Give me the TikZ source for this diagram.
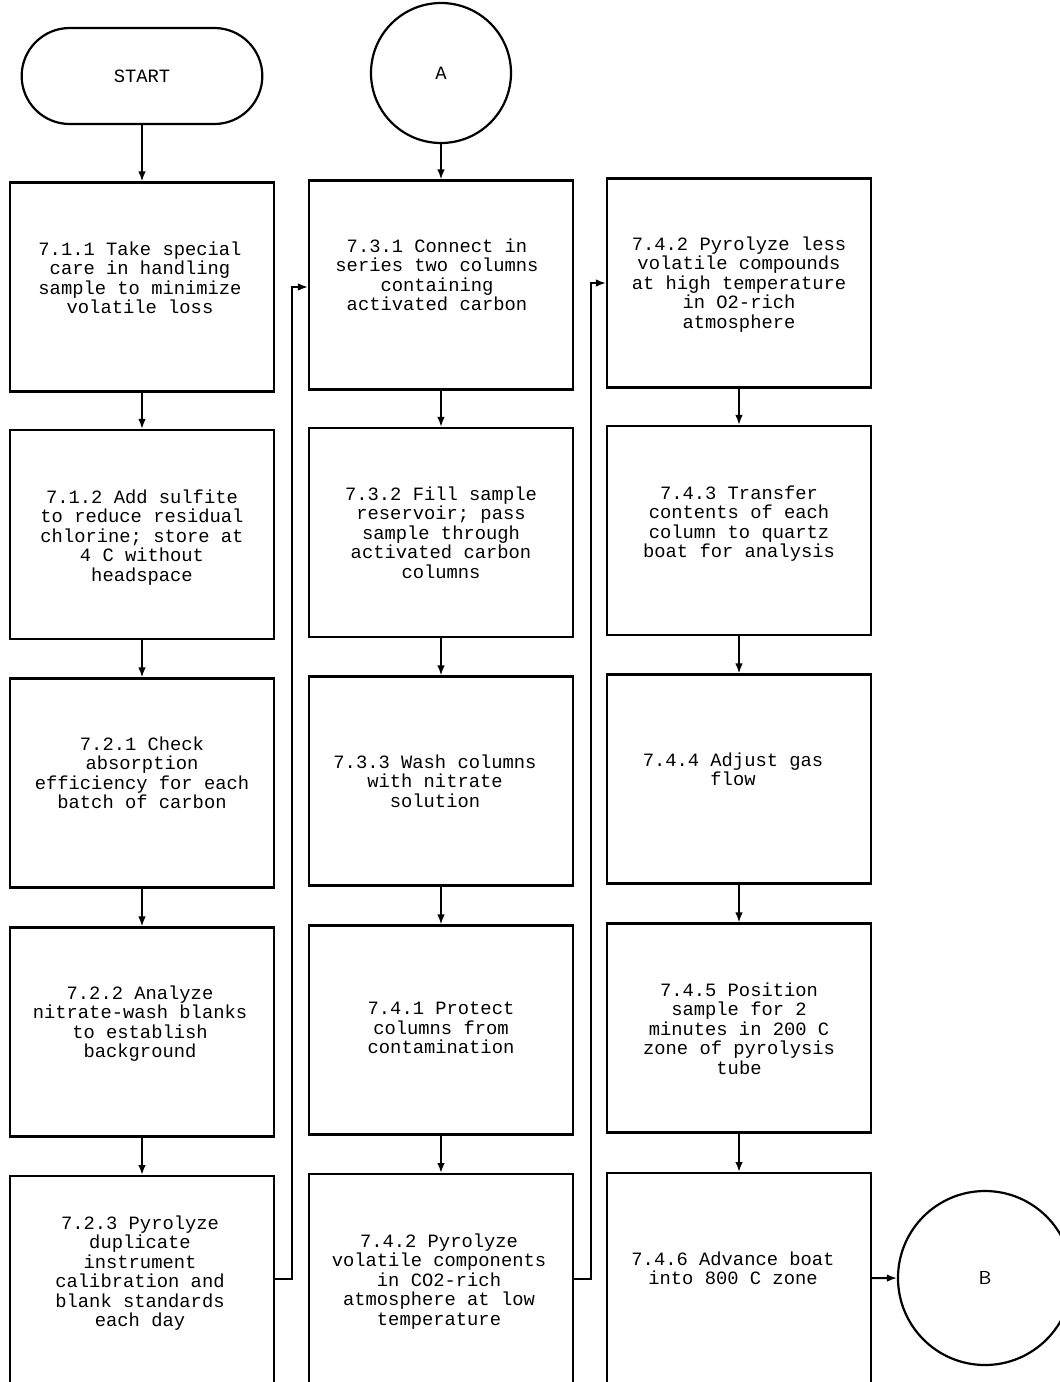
\documentclass[tikz,border=0pt]{standalone}
\usepackage{fontspec}
\setmonofont{Liberation Mono}
\usetikzlibrary{shapes.misc,arrows.meta}
\tikzset{
  box/.style={draw, line width=1.1pt, minimum width=132pt, minimum height=104.5pt, inner sep=0pt},
  lastbox/.style={box, anchor=north, minimum height=110pt},
  txt/.style={anchor=north, align=center, inner sep=0pt, font=\ttfamily\fontsize{9.4}{9.75}\selectfont},
  arr/.style={line width=0.9pt, -{Latex[length=5pt,width=3.8pt]}},
  term/.style={draw, line width=1.1pt, rounded rectangle, minimum width=127pt, minimum height=48pt, font=\ttfamily\fontsize{9.4}{9.75}\selectfont},
  conn/.style={draw, line width=1.1pt, circle, font=\ttfamily\fontsize{9.4}{9.75}\selectfont}
}
\begin{document}
\begin{tikzpicture}[x=0.5pt,y=-0.5pt]
\fill[white] (0,0) rectangle (1060,1382);
\useasboundingbox (0,0) rectangle (1060,1382);
\clip (0,0) rectangle (1060,1382);
% terminals
\node[term] (start) at (142,76) {START};
\node[conn, minimum size=70pt] (A) at (441,73) {A};
\node[conn, minimum size=87pt, font=\sffamily\fontsize{9.4}{9.75}\selectfont] (B) at (985,1278) {B};
% column 1
\node[box] (b11) at (142,287) {};
\node[box] (b12) at (142,534.5) {};
\node[box] (b13) at (142,783) {};
\node[box] (b14) at (142,1032) {};
\node[lastbox] (b15) at (142,1175) {};
% column 2
\node[box] (b21) at (441,285) {};
\node[box] (b22) at (441,532.5) {};
\node[box] (b23) at (441,781) {};
\node[box] (b24) at (441,1030) {};
\node[lastbox] (b25) at (441,1173) {};
% column 3
\node[box] (b31) at (739,283) {};
\node[box] (b32) at (739,530.5) {};
\node[box] (b33) at (739,779) {};
\node[box] (b34) at (739,1028) {};
\node[lastbox] (b35) at (739,1172) {};
% texts
\node[txt] (t11) at (140,241) {7.1.1 Take special\\care in handling\\sample to minimize\\volatile loss};
\node[txt] (t12) at (142,489) {7.1.2 Add sulfite\\to reduce residual\\chlorine; store at\\4 C without\\headspace};
\node[txt] (t13) at (142,736) {7.2.1 Check\\absorption\\efficiency for each\\batch of carbon};
\node[txt] (t14) at (140,985) {7.2.2 Analyze\\nitrate-wash blanks\\to establish\\background};
\node[txt] (t15) at (140,1215) {7.2.3 Pyrolyze\\duplicate\\instrument\\calibration and\\blank standards\\each day};
\node[txt] (t21) at (437,238) {7.3.1 Connect in\\series two columns\\containing\\activated carbon};
\node[txt] (t22) at (441,486) {7.3.2 Fill sample\\reservoir; pass\\sample through\\activated carbon\\columns};
\node[txt] (t23) at (435,754) {7.3.3 Wash columns\\with nitrate\\solution};
\node[txt] (t24) at (441,1002) {7.4.1 Protect\\columns from\\contamination};
\node[txt] (t25) at (439,1233) {7.4.2 Pyrolyze\\volatile components\\in CO2-rich\\atmosphere at low\\temperature};
\node[txt] (t31) at (739,236) {7.4.2 Pyrolyze less\\volatile compounds\\at high temperature\\in O2-rich\\atmosphere};
\node[txt] (t32) at (739,485) {7.4.3 Transfer\\contents of each\\column to quartz\\boat for analysis};
\node[txt] (t33) at (733,752) {7.4.4 Adjust gas\\flow};
\node[txt] (t34) at (739,982) {7.4.5 Position\\sample for 2\\minutes in 200 C\\zone of pyrolysis\\tube};
\node[txt] (t35) at (733,1251) {7.4.6 Advance boat\\into 800 C zone};
% connectors
\draw[arr] (start) -- (b11);
\draw[arr] (b11) -- (b12);
\draw[arr] (b12) -- (b13);
\draw[arr] (b13) -- (b14);
\draw[arr] (b14) -- (b15);
\draw[arr] (A) -- (b21);
\draw[arr] (b21) -- (b22);
\draw[arr] (b22) -- (b23);
\draw[arr] (b23) -- (b24);
\draw[arr] (b24) -- (b25);
\draw[arr] (b31) -- (b32);
\draw[arr] (b32) -- (b33);
\draw[arr] (b33) -- (b34);
\draw[arr] (b34) -- (b35);
\draw[arr] ([yshift=3.5pt]b15.east) -- ++(17,0) |- ([yshift=-1pt]b21.west);
\draw[arr] ([yshift=2.5pt]b25.east) -- ++(17,0) |- (b31.west);
\draw[arr] ([yshift=2.5pt]b35.east) -- (B);
\end{tikzpicture}
\end{document}
